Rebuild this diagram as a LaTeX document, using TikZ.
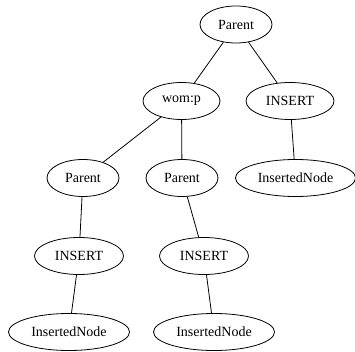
\documentclass[tikz,border=0pt]{standalone}
\usepackage{fontspec}
\setmainfont{Liberation Serif}
\usepackage{tikz}
\usetikzlibrary{shapes.geometric}

\begin{document}
\begin{tikzpicture}[x=1pt,y=-1pt,line width=0.8pt,
		tnode/.style={draw,ellipse,inner sep=0pt,minimum height=37pt,font=\fontsize{14}{16}\selectfont}]
			\useasboundingbox (0,0) rectangle (355,352);
			\node[tnode,minimum width=72pt] (top) at (236,24.5) {Parent};
			\node[tnode,minimum width=77pt] (wom) at (181.5,101) {wom:p};
			\node[tnode,minimum width=88pt] (insR) at (290,101) {INSERT};
			\node[tnode,minimum width=72pt] (parL) at (83,178) {Parent};
			\node[tnode,minimum width=72pt] (parM) at (182,178) {Parent};
			\node[tnode,minimum width=120pt] (nodeR) at (295.5,178) {InsertedNode};
			\node[tnode,minimum width=89pt] (insL) at (79,256) {INSERT};
			\node[tnode,minimum width=89pt] (insM) at (204,256) {INSERT};
			\node[tnode,minimum width=121pt] (nodeL) at (69,332) {InsertedNode};
			\node[tnode,minimum width=121pt] (nodeM) at (214,332) {InsertedNode};
			\draw (top) -- (wom);
			\draw (top) -- (insR);
			\draw (wom) -- (parL);
			\draw (wom) -- (parM);
			\draw (insR) -- (nodeR);
			\draw (parL) -- (insL);
			\draw (parM) -- (insM);
			\draw (insL) -- (nodeL);
			\draw (insM) -- (nodeM);
		\end{tikzpicture}
\end{document}
